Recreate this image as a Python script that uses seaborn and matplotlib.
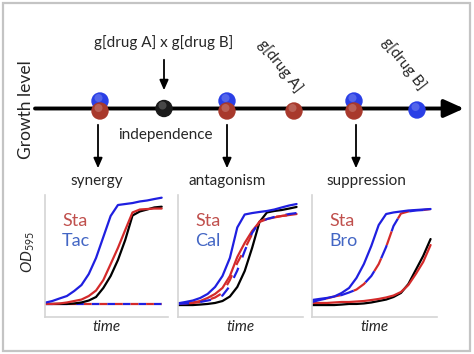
from __future__ import annotations

import matplotlib.pyplot as plt
import pandas as pd
import seaborn as sns
from matplotlib.patches import Rectangle, Circle

# ---- data -------------------------------------------------------------
TIME = [0.0, 1.5, 3.0, 4.5, 6.0, 7.5, 9.0, 10.5, 12.0, 13.5, 15.0,
        16.5, 18.0, 19.5, 21.0, 22.5, 24.0]

# synergy: Sta + Tac
SYN_TAC = [.117, .131, .152, .172, .213, .262, .352, .484, .656, .828, .918,
           .926, .934, .947, .955, .967, .978]
SYN_STA = [.107, .107, .111, .119, .131, .143, .172, .217, .303, .434, .566,
           .713, .857, .881, .885, .889, .889]
SYN_NONE = [.107, .107, .107, .107, .111, .119, .135, .164, .238, .336, .467,
            .631, .832, .865, .881, .898, .904]
SYN_COMBO = [.107] * 17

# antagonism: Sta + Cal
ANT_CAL = [.112, .123, .135, .156, .189, .246, .336, .484, .734, .840, .852,
           .861, .869, .881, .898, .914, .926]
ANT_STA = [.107, .111, .119, .131, .156, .189, .238, .336, .492, .607, .705,
           .779, .803, .816, .828, .836, .844]
ANT_COMBO_R = [.107, .111, .115, .123, .139, .160, .197, .303, .443, .557, .680,
               .783, .807, .820, .828, .836, .844]
ANT_COMBO_B = [.107, .111, .115, .123, .135, .148, .176, .254, .381, .541, .689,
               .779, .803, .820, .832, .844, .852]
ANT_NONE = [.098, .098, .098, .102, .107, .115, .131, .168, .246, .377, .566,
            .779, .857, .869, .877, .889, .902]

# suppression: Sta + Bro
SUP_BRO = [.139, .148, .156, .168, .197, .238, .320, .434, .582, .754, .844,
           .857, .865, .873, .877, .881, .885]
SUP_COMBO = [.123, .139, .152, .168, .180, .201, .225, .270, .336, .434, .574,
             .746, .848, .865, .873, .877, .885]
SUP_NONE = [.098, .098, .098, .098, .102, .107, .107, .111, .119, .131, .143,
            .164, .197, .270, .385, .500, .639]
SUP_STA = [.115, .115, .115, .119, .123, .123, .127, .131, .139, .148, .160,
           .176, .205, .262, .352, .451, .590]

CASES = ["synergy", "antagonism", "suppression"]
SECOND_DRUG = ["Tac", "Cal", "Bro"]

# growth-level axis (pixel scale of the diagram)
DOT_X_BLUE = [100, 227, 354, 417]
DOT_Y_BLUE = [101, 101, 101, 110]
DOT_X_RED = [100, 227, 294, 354]
DOT_Y_RED = [111, 111, 111, 111]
INDEP_X = 164

RED = "#d42a2a"
BLUE = "#1f1fe0"
DOT_RED = "#a8392c"
DOT_BLUE = "#2a3fe6"
TXT_RED = "#c0504d"
TXT_BLUE = "#4366c4"
SPINE = "#d4d4d4"

W, H = 474, 354


def set_style() -> None:
    sns.set_theme(style="white")
    plt.rcParams.update({
        "font.family": ["Lato", "DejaVu Sans"],
        "mathtext.fontset": "custom",
        "mathtext.it": "Lato:italic",
        "mathtext.rm": "Lato",
    })


def px_axes(fig, x0, y0, x1, y1):
    return fig.add_axes([x0 / W, 1 - y1 / H, (x1 - x0) / W, (y1 - y0) / H])


def draw_dot(ax, x, y, color):
    ax.add_patch(Circle((x, y), 8, color=color, zorder=5))
    ax.add_patch(Circle((x - 1.5, y - 3), 4, color="white", alpha=0.2,
                        zorder=6, lw=0))


def draw_diagram(ax) -> None:
    ax.set_xlim(0, W)
    ax.set_ylim(H, 0)
    ax.axis("off")
    ax.add_patch(Rectangle((3, 3), 467, 348, fill=False, ec="#c4c4c4", lw=1.6))

    ax.annotate("", xy=(464, 108.5), xytext=(35, 108.5),
                arrowprops=dict(arrowstyle="-|>,head_length=1.0,head_width=0.45",
                                color="black", lw=2.8, shrinkA=0, shrinkB=0))
    ax.text(26, 110, "Growth level", rotation=90, ha="center", va="center",
            fontsize=12.5)

    for x, y in zip(DOT_X_BLUE, DOT_Y_BLUE):
        draw_dot(ax, x, y, DOT_BLUE)
    for x, y in zip(DOT_X_RED, DOT_Y_RED):
        draw_dot(ax, x, y, DOT_RED)
    draw_dot(ax, INDEP_X, 108.5, "#1a1a1a")

    ax.text(164, 43, "g[drug A] x g[drug B]", ha="center", va="center",
            fontsize=11)
    ax.annotate("", xy=(164, 93), xytext=(164, 57),
                arrowprops=dict(arrowstyle="-|>,head_length=0.5,head_width=0.22",
                                color="black", lw=1.3))
    ax.text(280, 66, "g[drug A]", rotation=-52, ha="center", va="center",
            fontsize=11)
    ax.text(404, 64, "g[drug B]", rotation=-52, ha="center", va="center",
            fontsize=11)
    ax.text(165, 135, "independence", ha="center", va="center", fontsize=11)

    for x, label, lx in zip([98, 227, 356], CASES, [97, 227, 366]):
        ax.annotate("", xy=(x, 171), xytext=(x, 122),
                    arrowprops=dict(arrowstyle="-|>,head_length=0.5,head_width=0.22",
                                    color="black", lw=1.3))
        ax.text(lx, 181, label, ha="center", va="center", fontsize=11)

    ax.text(28, 252, r"$\mathit{OD}_{\mathit{595}}$", rotation=90,
            ha="center", va="center", fontsize=11)


def curve(ax, y, color, dash=None, offset=0):
    df = pd.DataFrame({"time": TIME, "od": y})
    kws = {}
    if dash:
        kws["linestyle"] = (offset, (dash, dash))
    sns.lineplot(data=df, x="time", y="od", ax=ax, color=color, lw=1.6, **kws)


def style_panel(ax, drug):
    ax.set_xlim(0, 25.3)
    ax.set_ylim(0, 1.0)
    ax.set_xticks([])
    ax.set_yticks([])
    ax.set_xlabel("")
    ax.set_ylabel("")
    for side in ("top", "right"):
        ax.spines[side].set_visible(False)
    for side in ("left", "bottom"):
        ax.spines[side].set_color(SPINE)
        ax.spines[side].set_linewidth(1.2)
    ax.patch.set_alpha(0)
    ax.text(0.14, 0.79, "Sta", transform=ax.transAxes, color=TXT_RED,
            fontsize=13, va="center")
    ax.text(0.14, 0.62, drug, transform=ax.transAxes, color=TXT_BLUE,
            fontsize=13, va="center")
    ax.text(0.5, -0.085, "time", transform=ax.transAxes, ha="center",
            va="center", fontsize=11, style="italic")


def build_figure() -> plt.Figure:
    fig = plt.figure(figsize=(W / 100, H / 100), dpi=100)
    bg = fig.add_axes([0, 0, 1, 1])
    draw_diagram(bg)

    boxes = [(45, 168), (178, 303), (312, 437)]
    axes = [px_axes(fig, x0, 195, x1, 317) for x0, x1 in boxes]

    ax = axes[0]
    curve(ax, SYN_COMBO, BLUE, dash=3.5, offset=0)
    curve(ax, SYN_COMBO, RED, dash=3.5, offset=3.5)
    curve(ax, SYN_NONE, "black")
    curve(ax, SYN_STA, RED)
    curve(ax, SYN_TAC, BLUE)

    ax = axes[1]
    curve(ax, ANT_NONE, "black")
    curve(ax, ANT_STA, RED)
    curve(ax, ANT_COMBO_B, BLUE, dash=5, offset=0)
    curve(ax, ANT_COMBO_R, RED, dash=5, offset=5)
    curve(ax, ANT_CAL, BLUE)

    ax = axes[2]
    curve(ax, SUP_NONE, "black")
    curve(ax, SUP_STA, RED)
    curve(ax, SUP_COMBO, BLUE, dash=6.5, offset=0)
    curve(ax, SUP_COMBO, RED, dash=6.5, offset=6.5)
    curve(ax, SUP_BRO, BLUE)

    for ax, drug in zip(axes, SECOND_DRUG):
        style_panel(ax, drug)
    return fig


def main() -> None:
    set_style()
    fig = build_figure()
    fig.savefig("out.png", dpi=100, facecolor="white")


if __name__ == "__main__":
    main()
